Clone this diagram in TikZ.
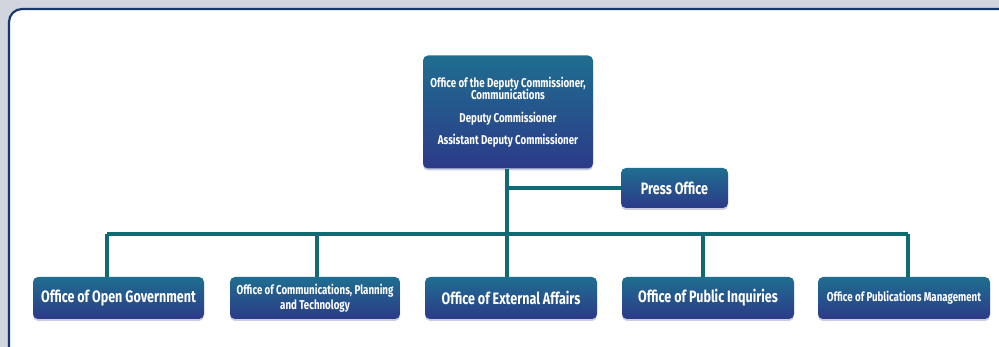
\documentclass[tikz,border=0pt]{standalone}
\usepackage{fontspec}
\newfontfamily\boxfont{Fira Sans}[FakeStretch=0.76]
\usetikzlibrary{shadows}
\definecolor{linkteal}{HTML}{0E6B73}
\definecolor{boxtop}{HTML}{1F6E90}
\definecolor{boxbot}{HTML}{2C3A88}
\definecolor{framenavy}{HTML}{17386A}
\definecolor{bggray}{HTML}{D2D4DE}
\tikzset{
  orgbox/.style={draw=none, rounded corners=5pt, top color=boxtop, bottom color=boxbot,
    text=white, align=center, inner sep=1pt, font=\boxfont\bfseries,
    drop shadow={shadow xshift=0pt, shadow yshift=-2pt, opacity=0.25, fill=boxbot}},
  bigtxt/.style={font=\boxfont\bfseries\fontsize{16.5}{18}\selectfont},
  smalltxt/.style={font=\boxfont\bfseries\fontsize{12.8}{14.5}\selectfont},
  link/.style={draw=linkteal, line width=4pt},
}
\begin{document}
\begin{tikzpicture}[x=1pt,y=-1pt]
\useasboundingbox (0,0) rectangle (999,347);
\fill[bggray] (0,0) rectangle (999,347);
\draw[framenavy, line width=2.2pt, fill=white, rounded corners=13pt] (9,9) rectangle (1030,380);

\node[orgbox, smalltxt, minimum width=170pt, minimum height=113pt] (top) at (508,112)
  {Office of the Deputy Commissioner,\\[-2pt]
   Communications\\[8pt]
   Deputy Commissioner\\[8pt]
   Assistant Deputy Commissioner};
\node[orgbox, bigtxt, minimum width=107pt, minimum height=40pt] (press) at (674.5,188) {Press Office};

\node[orgbox, bigtxt, minimum width=171pt, minimum height=42pt] (b1) at (118.5,298) {Office of Open Government};
\node[orgbox, smalltxt, minimum width=170pt, minimum height=42pt] (b2) at (315,298) {Office of Communications, Planning\\[1pt]and Technology};
\node[orgbox, bigtxt, minimum width=172pt, minimum height=42pt] (b3) at (511,298) {Office of External Affairs};
\node[orgbox, bigtxt, minimum width=172pt, minimum height=42pt] (b4) at (708,298) {Office of Public Inquiries};
\node[orgbox, smalltxt, minimum width=172pt, minimum height=42pt] (b5) at (904,298) {Office of Publications Management};

\coordinate (j1) at (107,234);
\coordinate (j2) at (317,234);
\coordinate (j3) at (507,234);
\coordinate (j4) at (703,234);
\coordinate (j5) at (908,234);

\draw[link] (top.south -| j3) -- (j3);
\draw[link] (top.south |- press.west) -- (press.west);
\draw[link] (j1) -- (j5);
\draw[link] (j1) -- (j1 |- b1.north);
\draw[link] (j2) -- (j2 |- b2.north);
\draw[link] (j3) -- (j3 |- b3.north);
\draw[link] (j4) -- (j4 |- b4.north);
\draw[link] (j5) -- (j5 |- b5.north);
\end{tikzpicture}
\end{document}
